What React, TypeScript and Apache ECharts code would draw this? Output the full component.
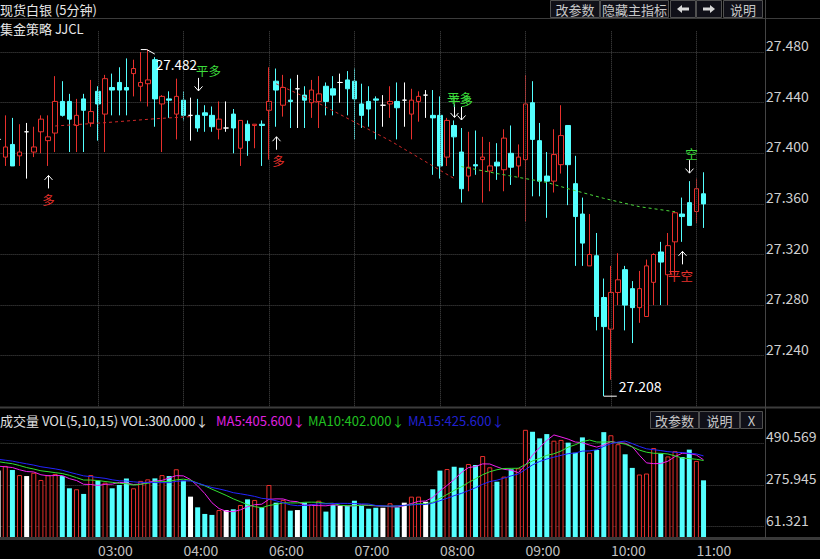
import React, { useEffect, useRef } from 'react';
import * as echarts from 'echarts';

// ---------------- data ----------------
// trading sessions of 5-minute bars (05:00-06:00 is closed)
const sessions = [
  { start: '01:50', bars: 38 },
  { start: '06:00', bars: 70 },
];
const hourLabels = ['03:00', '04:00', '06:00', '07:00', '08:00', '09:00', '10:00', '11:00'];

// [open, close, low, high]
const candles: number[][] = [
  [27.411, 27.411, 27.408, 27.413],
  [27.397, 27.405, 27.390, 27.430],
  [27.407, 27.390, 27.390, 27.428],
  [27.398, 27.401, 27.390, 27.423],
  [27.417, 27.417, 27.380, 27.424],
  [27.401, 27.405, 27.397, 27.421],
  [27.417, 27.427, 27.400, 27.430],
  [27.410, 27.413, 27.390, 27.430],
  [27.416, 27.441, 27.401, 27.461],
  [27.441, 27.430, 27.429, 27.457],
  [27.441, 27.427, 27.401, 27.447],
  [27.422, 27.430, 27.401, 27.443],
  [27.443, 27.434, 27.401, 27.447],
  [27.424, 27.433, 27.421, 27.458],
  [27.449, 27.439, 27.410, 27.453],
  [27.431, 27.459, 27.401, 27.462],
  [27.452, 27.450, 27.430, 27.463],
  [27.456, 27.450, 27.430, 27.468],
  [27.452, 27.450, 27.430, 27.475],
  [27.463, 27.467, 27.445, 27.474],
  [27.453, 27.456, 27.441, 27.480],
  [27.455, 27.458, 27.437, 27.482],
  [27.474, 27.443, 27.421, 27.476],
  [27.439, 27.445, 27.401, 27.446],
  [27.443, 27.442, 27.428, 27.449],
  [27.431, 27.445, 27.411, 27.459],
  [27.442, 27.430, 27.426, 27.449],
  [27.430, 27.430, 27.410, 27.444],
  [27.430, 27.420, 27.417, 27.443],
  [27.432, 27.430, 27.417, 27.438],
  [27.430, 27.421, 27.417, 27.437],
  [27.419, 27.427, 27.411, 27.441],
  [27.420, 27.420, 27.417, 27.441],
  [27.431, 27.420, 27.400, 27.435],
  [27.404, 27.426, 27.390, 27.426],
  [27.423, 27.410, 27.398, 27.426],
  [27.422, 27.423, 27.404, 27.423],
  [27.423, 27.422, 27.390, 27.426],
  [27.434, 27.441, 27.395, 27.468],
  [27.457, 27.450, 27.421, 27.467],
  [27.438, 27.452, 27.429, 27.462],
  [27.442, 27.441, 27.420, 27.459],
  [27.451, 27.451, 27.420, 27.462],
  [27.446, 27.442, 27.420, 27.453],
  [27.440, 27.450, 27.428, 27.458],
  [27.441, 27.447, 27.420, 27.461],
  [27.453, 27.441, 27.430, 27.456],
  [27.451, 27.446, 27.430, 27.461],
  [27.456, 27.456, 27.440, 27.463],
  [27.458, 27.451, 27.430, 27.465],
  [27.457, 27.443, 27.411, 27.467],
  [27.439, 27.430, 27.420, 27.455],
  [27.441, 27.435, 27.421, 27.453],
  [27.443, 27.442, 27.411, 27.445],
  [27.438, 27.438, 27.421, 27.446],
  [27.439, 27.441, 27.428, 27.453],
  [27.441, 27.436, 27.411, 27.456],
  [27.442, 27.442, 27.421, 27.456],
  [27.431, 27.442, 27.411, 27.451],
  [27.441, 27.445, 27.425, 27.449],
  [27.446, 27.446, 27.428, 27.450],
  [27.430, 27.428, 27.383, 27.450],
  [27.430, 27.390, 27.380, 27.445],
  [27.397, 27.426, 27.390, 27.428],
  [27.422, 27.413, 27.382, 27.426],
  [27.401, 27.372, 27.361, 27.420],
  [27.382, 27.389, 27.370, 27.417],
  [27.391, 27.390, 27.383, 27.418],
  [27.395, 27.397, 27.361, 27.413],
  [27.386, 27.390, 27.370, 27.409],
  [27.393, 27.390, 27.379, 27.408],
  [27.387, 27.412, 27.370, 27.419],
  [27.400, 27.389, 27.375, 27.422],
  [27.390, 27.397, 27.381, 27.407],
  [27.395, 27.439, 27.346, 27.462],
  [27.440, 27.411, 27.366, 27.457],
  [27.410, 27.378, 27.366, 27.424],
  [27.382, 27.378, 27.349, 27.401],
  [27.378, 27.399, 27.369, 27.419],
  [27.391, 27.414, 27.384, 27.438],
  [27.422, 27.391, 27.359, 27.422],
  [27.376, 27.350, 27.311, 27.398],
  [27.352, 27.329, 27.311, 27.365],
  [27.311, 27.320, 27.311, 27.352],
  [27.319, 27.271, 27.260, 27.337],
  [27.286, 27.263, 27.208, 27.301],
  [27.261, 27.290, 27.221, 27.311],
  [27.290, 27.300, 27.280, 27.321],
  [27.308, 27.280, 27.260, 27.311],
  [27.293, 27.278, 27.250, 27.299],
  [27.278, 27.293, 27.266, 27.307],
  [27.271, 27.311, 27.271, 27.316],
  [27.298, 27.320, 27.280, 27.321],
  [27.322, 27.314, 27.280, 27.330],
  [27.304, 27.327, 27.280, 27.337],
  [27.330, 27.353, 27.304, 27.354],
  [27.352, 27.350, 27.330, 27.365],
  [27.361, 27.343, 27.343, 27.378],
  [27.354, 27.372, 27.345, 27.380],
  [27.368, 27.360, 27.341, 27.385],
];

const volumes: number[] = [
  350, 374, 353, 327, 322, 339, 302, 327, 333, 322,
  259, 254, 230, 327, 298, 288, 259, 276, 310, 259,
  297, 305, 310, 327, 322, 357, 298, 216, 161, 127,
  122, 147, 147, 151, 173, 202, 199, 161, 276, 185,
  199, 144, 147, 185, 178, 195, 139, 173, 168, 168,
  195, 168, 154, 159, 159, 182, 161, 185, 216, 216,
  190, 254, 350, 358, 370, 365, 384, 379, 425, 367,
  293, 319, 357, 362, 560, 550, 516, 538, 504, 508,
  494, 442, 521, 442, 456, 548, 532, 486, 434, 364,
  330, 335, 466, 438, 423, 450, 420, 458, 400, 300,
];
// volumes of the 14 bars before the visible window
const priorVolumes: number[] = [440, 425, 438, 420, 437, 430, 405, 418, 426, 416, 392, 371, 385, 367.5];

const maPeriods = [5, 10, 15];
const volTicks = [61.321, 275.945, 490.569];

// JJCL strategy stop lines [barIndex, price]
const longStopA: number[][] = [[8, 27.4216], [15, 27.4242], [22, 27.4273], [27, 27.429]];
const longStopB: number[][] = [[39, 27.455], [45, 27.4395], [55, 27.41], [64, 27.38]];
const shortStop: number[][] = [[65, 27.3895], [70, 27.384], [77, 27.377], [80, 27.372], [85, 27.3644], [90, 27.3578], [95, 27.3538]];

// strategy signals
const signals = [
  { i: 7, text: '多', dir: 'up', tone: 'red', dx: 0, gap: 9.5 },
  { i: 28, text: '平多', dir: 'down', tone: 'green', dx: 10, gap: 8 },
  { i: 39, text: '多', dir: 'up', tone: 'red', dx: 2, gap: 10 },
  { i: 64, text: '平多', dir: 'down', tone: 'green', dx: 5, gap: 3 },
  { i: 65, text: '平多', dir: 'down', tone: 'green', dx: -1, gap: 8 },
  { i: 96, text: '平空', dir: 'up', tone: 'red', dx: -2, gap: 9.5 },
  { i: 97, text: '空', dir: 'down', tone: 'green', dx: 2, gap: 8 },
];

// ---------------- style ----------------
const RED = '#e8302c';
const CYAN = '#54ffff';
const WHITE = '#ffffff';
const GREEN = '#3cdc3c';
const MA_COLORS = ['#f020f0', '#30e030', '#2424ff'];
const MA_TEXT = ['#e020e0', '#20c020', '#2020d0'];
const GRID_C = '#4a4a4a';
const FONT = '"Noto Sans CJK SC", "Noto Sans", sans-serif';
const LEFT = -5.4;
const WIDTH = 769.5;

const categories: string[] = [];
sessions.forEach((s) => {
  const [h, m] = s.start.split(':').map(Number);
  for (let k = 0; k < s.bars; k++) {
    const t = h * 60 + m + 5 * k;
    categories.push(`${String(Math.floor(t / 60)).padStart(2, '0')}:${String(t % 60).padStart(2, '0')}`);
  }
});

const allVol = [...priorVolumes, ...volumes];
const maSeries = maPeriods.map((n) =>
  volumes.map((_, i) => {
    const end = i + priorVolumes.length;
    let s = 0;
    for (let k = end - n + 1; k <= end; k++) s += allVol[k];
    return +(s / n).toFixed(3);
  })
);

const sign = (c: number[]) => (c[1] > c[0] ? 1 : c[1] < c[0] ? -1 : 0);

function buildOption(): any {
  const candleData = candles.map((c) => {
    if (sign(c) === 0) {
      return { value: c, itemStyle: { color: WHITE, color0: WHITE, borderColor: WHITE, borderColor0: WHITE } };
    }
    return { value: c };
  });
  const volData = volumes.map((v, i) => {
    const s = sign(candles[i]);
    if (s > 0) return { value: v, itemStyle: { color: '#000', borderColor: RED, borderWidth: 1 } };
    if (s < 0) return { value: v, itemStyle: { color: CYAN, borderWidth: 0 } };
    return { value: v, itemStyle: { color: WHITE, borderWidth: 0 } };
  });
  const hidden = { axisLine: { show: false }, axisTick: { show: false }, axisLabel: { show: false }, splitLine: { show: false } };
  const stopLine = (data: number[][], color: string) => ({
    type: 'line', xAxisIndex: 0, yAxisIndex: 0, data, symbol: 'none', silent: true, z: 3,
    lineStyle: { color, width: 1, type: [3, 3] },
  });
  return {
    animation: false,
    backgroundColor: '#000',
    textStyle: { fontFamily: FONT },
    grid: [
      { left: LEFT, width: WIDTH, top: 1.5, height: 404.8, outerBoundsMode: 'none', containLabel: false },
      { left: LEFT, width: WIDTH, top: 401.6, height: 166.8, outerBoundsMode: 'none', containLabel: false },
      { left: LEFT, width: WIDTH, top: 538, height: 1, outerBoundsMode: 'none', containLabel: false },
    ],
    xAxis: [
      { type: 'category', gridIndex: 0, data: categories, boundaryGap: true, ...hidden },
      { type: 'category', gridIndex: 1, data: categories, boundaryGap: true, ...hidden },
      {
        type: 'category', gridIndex: 2, data: categories, boundaryGap: true,
        axisLine: { show: false }, axisTick: { show: false }, splitLine: { show: false },
        axisLabel: {
          show: true, interval: (_i: number, v: string) => hourLabels.includes(v),
          align: 'left', margin: 4, color: '#c0c0c0', fontSize: 14, fontFamily: FONT,
        },
      },
    ],
    yAxis: [
      {
        type: 'value', gridIndex: 0, position: 'right', min: 27.2, max: 27.52, interval: 0.04,
        axisLine: { show: false }, axisTick: { show: false },
        axisLabel: {
          show: true, showMinLabel: false, showMaxLabel: false, margin: 2, color: '#d0d0d0',
          fontSize: 14, fontFamily: FONT, verticalAlign: 'bottom', formatter: (v: number) => v.toFixed(3),
        },
        splitLine: { show: true, showMinLine: false, showMaxLine: false, lineStyle: { type: 'dotted', color: GRID_C, width: 1 } },
      },
      {
        type: 'value', gridIndex: 1, position: 'right',
        min: +(volTicks[0] - (volTicks[1] - volTicks[0])).toFixed(3),
        max: +(volTicks[2] + (volTicks[1] - volTicks[0])).toFixed(3),
        interval: +(volTicks[1] - volTicks[0]).toFixed(3),
        axisLine: { show: false }, axisTick: { show: false },
        axisLabel: {
          show: true, showMinLabel: false, showMaxLabel: false, margin: 2, color: '#d0d0d0',
          fontSize: 14, fontFamily: FONT, verticalAlign: 'bottom', formatter: (v: number) => v.toFixed(3),
        },
        splitLine: { show: true, showMinLine: false, showMaxLine: false, lineStyle: { type: 'dotted', color: GRID_C, width: 1 } },
      },
      { type: 'value', gridIndex: 2, show: false },
    ],
    series: [
      {
        type: 'candlestick', xAxisIndex: 0, yAxisIndex: 0, barWidth: 5, data: candleData,
        itemStyle: { color: '#000', color0: CYAN, borderColor: RED, borderColor0: CYAN, borderColorDoji: WHITE, borderWidth: 1 },
        markLine: {
          silent: true, symbol: ['none', 'none'], label: { show: false },
          lineStyle: { type: 'dotted', color: GRID_C, width: 1 },
          data: hourLabels.map((h) => ({ xAxis: h })),
          animation: false,
        },
      },
      stopLine(longStopA, '#d02828'),
      stopLine(longStopB, '#d02828'),
      stopLine(shortStop, '#4cd83c'),
      {
        type: 'bar', xAxisIndex: 1, yAxisIndex: 1, barWidth: 5, data: volData, silent: true,
      },
      ...maSeries.map((d, k) => ({
        type: 'line', xAxisIndex: 1, yAxisIndex: 1, data: d, symbol: 'none', silent: true, z: 4,
        lineStyle: { color: MA_COLORS[k], width: 1 },
      })),
    ],
  };
}

function buildGraphics(chart: any): any[] {
  const Z = 100;
  const els: any[] = [];
  const px = (i: number, v: number) => chart.convertToPixel({ gridIndex: 0 }, [i, v]) as number[];
  const text = (t: string, x: number, y: number, fill: string, size = 13, align = 'left') => ({
    type: 'text', z: Z, x, y,
    style: { text: t, fill, font: `${size}px ${FONT}`, align, textAlign: align, verticalAlign: 'middle', textVerticalAlign: 'middle' },
  });
  const line = (x1: number, y1: number, x2: number, y2: number, stroke: string, w = 1) => ({
    type: 'line', z: Z, shape: { x1, y1, x2, y2 }, style: { stroke, lineWidth: w },
  });

  // header cover and frame lines
  els.push({ type: 'rect', z: Z - 1, shape: { x: 0, y: 0, width: 820, height: 31 }, style: { fill: '#000' } });
  els.push(line(0, 18.5, 820, 18.5, '#3c3c3c'));
  els.push(line(765.5, 0, 765.5, 538, '#444'));
  els.push({ type: 'rect', z: Z - 1, shape: { x: 0, y: 406.5, width: 820, height: 2 }, style: { fill: '#3c3c3c' } });
  els.push({ type: 'rect', z: Z - 1, shape: { x: 0, y: 537, width: 820, height: 3 }, style: { fill: '#3a3a3a' } });

  els.push(text('现货白银 (5分钟)', 0, 9, '#e6e6e6', 13));
  els.push(text('集金策略 JJCL', 0, 28, '#e6e6e6', 13));

  const button = (label: string, x: number, y: number, w: number, h: number) => {
    els.push({ type: 'rect', z: Z, shape: { x: x + 0.5, y: y + 0.5, width: w, height: h }, style: { fill: '#101018', stroke: '#505050', lineWidth: 1 } });
    if (label === '←' || label === '→') {
      const cx = x + w / 2 + 0.5;
      const cy = y + h / 2 + 0.5;
      const s = label === '←' ? 1 : -1;
      const pts = [[-6, 0], [-1, -4], [-1, -1.5], [6, -1.5], [6, 1.5], [-1, 1.5], [-1, 4]].map((p) => [cx + s * p[0], cy + p[1]]);
      els.push({ type: 'polygon', z: Z + 1, shape: { points: pts }, style: { fill: '#d8d8d8' } });
    } else {
      els.push(text(label, x + w / 2 + 0.5, y + h / 2 + 1, '#c8c8c8', 13, 'center'));
    }
  };
  [['改参数', 550, 49], ['隐藏主指标', 600, 68], ['←', 670, 25], ['→', 696, 25], ['说明', 723, 39]].forEach((b) =>
    button(b[0] as string, b[1] as number, 0, b[2] as number, 17)
  );
  [['改参数', 650, 48], ['说明', 699, 40], ['X', 740, 22]].forEach((b) =>
    button(b[0] as string, b[1] as number, 411, b[2] as number, 17)
  );

  // volume header
  const last = volumes.length - 1;
  const arrowOf = (cur: number, prev: number) => (cur < prev ? '↓' : '↑');
  els.push(text(`成交量 VOL(5,10,15) VOL:${volumes[last].toFixed(3)}${arrowOf(volumes[last], volumes[last - 1])}`, 0, 420, '#e0e0e0', 13));
  const maX = [216, 308, 408];
  maSeries.forEach((d, k) => {
    els.push(text(`MA${maPeriods[k]}:${d[last].toFixed(3)}${arrowOf(d[last], d[last - 1])}`, maX[k], 420, MA_TEXT[k], 13));
  });

  // high / low markers
  let hi = 0;
  let lo = 0;
  candles.forEach((c, i) => {
    if (c[3] > candles[hi][3]) hi = i;
    if (c[2] < candles[lo][2]) lo = i;
  });
  const [hx, hy] = px(hi, candles[hi][3]);
  els.push({ type: 'polyline', z: Z, shape: { points: [[hx - 7, hy], [hx - 1, hy], [hx + 7, hy + 4.5]] }, style: { stroke: WHITE, lineWidth: 1, fill: null } });
  els.push(text(candles[hi][3].toFixed(3), hx + 8, hy + 14, WHITE, 13.5));
  const [lx, ly] = px(lo, candles[lo][2]);
  els.push(line(lx, ly, lx + 13, ly, WHITE));
  els.push(text(candles[lo][2].toFixed(3), lx + 15, ly - 10, WHITE, 14));

  // signals
  signals.forEach((s) => {
    const c = candles[s.i];
    const color = s.tone === 'red' ? RED : GREEN;
    if (s.dir === 'up') {
      const [x0, y0] = px(s.i, c[2]);
      const x = Math.round(x0) + 0.5;
      const top = y0 + s.gap;
      const bottom = top + 13;
      els.push(line(x, top, x, bottom, WHITE));
      els.push({ type: 'polyline', z: Z, shape: { points: [[x - 4, top + 4.5], [x, top], [x + 4, top + 4.5]] }, style: { stroke: WHITE, lineWidth: 1, fill: null } });
      els.push(text(s.text, x + s.dx, bottom + 11, color, 12.5, 'center'));
    } else {
      const [x0, y0] = px(s.i, c[3]);
      const x = Math.round(x0) + 0.5;
      const bottom = y0 - s.gap;
      const top = bottom - 13;
      els.push(line(x, top, x, bottom, WHITE));
      els.push({ type: 'polyline', z: Z, shape: { points: [[x - 4, bottom - 4.5], [x, bottom], [x + 4, bottom - 4.5]] }, style: { stroke: WHITE, lineWidth: 1, fill: null } });
      els.push(text(s.text, x + s.dx, top - 7, color, 12.5, 'center'));
    }
  });
  return els;
}

export default function App() {
  const ref = useRef<HTMLDivElement>(null);
  useEffect(() => {
    document.body.style.background = '#000';
    const chart = echarts.init(ref.current as HTMLDivElement, null, { renderer: 'svg', width: 820, height: 559 });
    chart.setOption(buildOption());
    chart.setOption({ graphic: { elements: buildGraphics(chart) } });
    return () => chart.dispose();
  }, []);
  return (
    <div
      ref={ref}
      style={{ position: 'fixed', left: 0, top: 0, width: 820, height: 559, background: '#000' }}
    />
  );
}
